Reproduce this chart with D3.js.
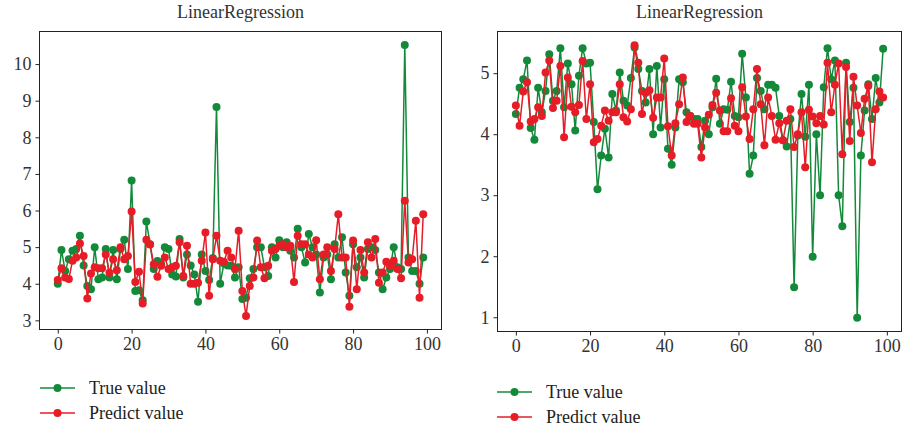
<!DOCTYPE html>
<html>
<head>
<meta charset="utf-8">
<script src="https://cdn.jsdelivr.net/npm/d3@7"></script>
<style>
  body { margin: 0; background: #fff; }
  svg { display: block; font-family: "Liberation Serif", "DejaVu Serif", serif; }
</style>
</head>
<body>
<svg id="chart" width="903" height="428"></svg>
<script>
"use strict";

var chartTitle = "LinearRegression";
var legendLabels = ["True value", "Predict value"];
var xTicks = [0, 20, 40, 60, 80, 100];
var leftYTicks = [3, 4, 5, 6, 7, 8, 9, 10];
var rightYTicks = [1, 2, 3, 4, 5];

// left panel
var leftTrue = [
  4.0, 4.92, 4.35, 4.67, 4.9, 4.95, 5.31, 4.5, 3.94, 3.85,
  5.0, 4.12, 4.17, 4.95, 4.17, 4.92, 4.12, 4.95, 5.2, 4.4,
  6.82, 3.8, 3.82, 3.55, 5.7, 5.08, 4.4, 4.62, 4.53, 5.0,
  4.95, 4.25, 4.2, 5.22, 4.17, 4.8, 4.5, 4.25, 3.51, 4.8,
  4.35, 4.1, 4.7, 8.83, 4.0, 4.55, 4.5, 4.49, 4.17, 4.45,
  3.58, 3.62, 4.15, 4.4, 5.0, 5.0, 4.45, 4.21, 5.0, 4.72,
  5.19, 5.0, 5.13, 4.9, 4.72, 5.5, 5.0, 4.58, 5.36, 5.0,
  4.8, 3.76, 4.72, 4.8, 4.12, 5.08, 4.72, 5.27, 4.31, 3.67,
  5.08, 4.45, 4.72, 4.17, 4.95, 5.0, 4.92, 4.31, 3.85, 4.17,
  4.4, 5.0, 4.45, 4.4, 10.52, 4.72, 4.35, 4.35, 4.0, 4.72
];
var leftPred = [
  4.1, 4.42, 4.17, 4.13, 4.63, 4.72, 5.1, 4.76, 3.6, 4.28,
  4.45, 4.42, 4.42, 4.8, 4.3, 4.67, 4.37, 5.0, 4.67, 4.76,
  5.97, 4.05, 4.33, 3.46, 5.2, 5.07, 4.53, 4.19, 4.49, 4.72,
  4.4, 4.45, 4.49, 5.13, 4.21, 5.04, 4.0, 4.0, 4.03, 4.63,
  5.4, 3.67, 4.67, 5.31, 4.63, 4.6, 4.9, 4.72, 4.4, 5.45,
  3.8, 3.12, 3.94, 4.17, 5.18, 4.45, 4.15, 4.49, 4.9, 4.95,
  5.04, 5.08, 5.0, 5.04, 4.05, 5.31, 5.08, 5.08, 4.8, 4.72,
  5.19, 4.12, 4.8, 5.0, 4.35, 4.95, 5.9, 4.72, 4.72, 3.37,
  5.18, 3.85, 4.92, 4.31, 5.13, 4.72, 5.22, 4.03, 4.31, 4.6,
  4.49, 4.63, 4.4, 4.15, 6.27, 4.58, 4.67, 5.72, 3.62, 5.9
];

// right panel
var rightTrue = [
  4.33, 4.76, 4.9, 5.21, 4.1, 3.91, 4.76, 4.36, 4.71, 5.31,
  4.55, 4.71, 5.41, 4.44, 5.16, 4.82, 4.06, 4.96, 5.41, 5.16,
  5.17, 4.2, 3.1, 3.65, 4.09, 3.62, 4.66, 4.39, 5.01, 4.55,
  4.47, 4.92, 5.42, 5.07, 4.71, 4.52, 5.07, 4.0, 5.12, 4.11,
  4.9, 3.76, 3.5, 4.11, 4.9, 4.85, 4.36, 4.3, 4.25, 4.25,
  3.79, 4.22, 4.0, 4.44, 4.91, 4.17, 4.41, 4.4, 4.86, 4.3,
  4.28, 5.32, 4.6, 3.35, 3.65, 4.92, 4.71, 4.41, 4.81, 4.81,
  4.76, 4.3, 3.9, 3.8, 4.25, 1.49, 3.98, 4.66, 3.96, 4.81,
  1.99, 4.0, 3.0, 4.77, 5.41, 4.9, 5.21, 3.0, 2.49, 5.17,
  4.2, 4.76, 0.99, 3.65, 4.39, 4.82, 4.25, 4.92, 4.52, 5.4
];
var rightPred = [
  4.47, 4.14, 4.7, 4.85, 4.21, 4.25, 4.44, 4.3, 5.01, 5.21,
  4.43, 4.55, 5.12, 3.95, 4.93, 4.45, 4.36, 4.48, 5.2, 4.25,
  4.82, 3.87, 3.92, 4.14, 4.39, 4.22, 4.36, 4.36, 4.82, 4.28,
  4.21, 4.41, 5.46, 5.17, 4.33, 4.68, 4.72, 4.27, 4.6, 4.6,
  5.24, 4.13, 3.65, 4.18, 4.49, 4.93, 4.2, 4.3, 4.17, 4.17,
  3.62, 4.11, 4.32, 4.48, 4.68, 4.39, 4.05, 4.05, 4.59, 4.14,
  4.05, 4.77, 4.29, 3.92, 4.41, 5.07, 4.49, 3.82, 4.6, 4.3,
  3.91, 4.18, 3.9, 4.22, 4.41, 3.79, 4.0, 4.36, 3.46, 4.4,
  4.29, 4.18, 4.3, 4.16, 5.17, 4.36, 4.81, 5.16, 3.67, 5.1,
  3.89, 4.94, 4.47, 4.02, 4.58, 4.79, 3.54, 4.41, 4.7, 4.6
];

var colors = ["#138a3a", "#e61c26"];
var svg = d3.select("#chart");

function styleAxis(a) {
  a.select(".domain").remove();
  a.selectAll("line").attr("stroke", "#222");
  a.selectAll("text")
    .attr("fill", "#333")
    .style("font-family", "'Liberation Serif', serif")
    .style("font-size", "18px");
}

function panel(opts) {
  var n = opts.series[0].length;
  var pad = (n - 1) * 0.05;
  var x = d3.scaleLinear()
    .domain([-pad, n - 1 + pad])
    .range([opts.left, opts.right]);

  // matplotlib style 5% margin around the data
  var lo = d3.min(opts.series, function(s) { return d3.min(s); });
  var hi = d3.max(opts.series, function(s) { return d3.max(s); });
  var m = (hi - lo) * 0.05;
  var y = d3.scaleLinear()
    .domain([lo - m, hi + m])
    .range([opts.bottom, opts.top]);

  var g = svg.append("g");

  g.append("text")
    .attr("x", (opts.left + opts.right) / 2)
    .attr("y", 18)
    .attr("text-anchor", "middle")
    .style("font-size", "18px")
    .style("fill", "#333")
    .text(chartTitle);

  var line = d3.line()
    .x(function(d, i) { return x(i); })
    .y(function(d) { return y(d); });

  opts.series.forEach(function(s, k) {
    g.append("path")
      .datum(s)
      .attr("fill", "none")
      .attr("stroke", colors[k])
      .attr("stroke-width", 1.5)
      .attr("d", line);
    g.append("g")
      .selectAll("circle")
      .data(s)
      .enter().append("circle")
      .attr("cx", function(d, i) { return x(i); })
      .attr("cy", function(d) { return y(d); })
      .attr("r", 4)
      .attr("fill", colors[k]);
  });

  g.append("rect")
    .attr("x", opts.left)
    .attr("y", opts.top)
    .attr("width", opts.right - opts.left)
    .attr("height", opts.bottom - opts.top)
    .attr("fill", "none")
    .attr("stroke", "#222")
    .attr("stroke-width", 1);

  g.append("g")
    .attr("transform", "translate(0," + opts.bottom + ")")
    .call(d3.axisBottom(x).tickValues(xTicks).tickFormat(d3.format("d"))
      .tickSize(4).tickPadding(4))
    .call(styleAxis);

  g.append("g")
    .attr("transform", "translate(" + opts.left + ",0)")
    .call(d3.axisLeft(y).tickValues(opts.yTicks).tickFormat(d3.format("d"))
      .tickSize(4).tickPadding(4))
    .call(styleAxis);

  // legend below the axes
  legendLabels.forEach(function(label, k) {
    var ly = opts.legendY + k * 25;
    var lg = g.append("g");
    lg.append("line")
      .attr("x1", opts.legendX)
      .attr("x2", opts.legendX + 35)
      .attr("y1", ly).attr("y2", ly)
      .attr("stroke", colors[k])
      .attr("stroke-width", 1.5);
    lg.append("circle")
      .attr("cx", opts.legendX + 17.5)
      .attr("cy", ly)
      .attr("r", 4)
      .attr("fill", colors[k]);
    lg.append("text")
      .attr("x", opts.legendX + 49)
      .attr("y", ly + 6)
      .style("font-size", "18px")
      .style("fill", "#222")
      .text(label);
  });
}

panel({
  series: [leftTrue, leftPred],
  left: 39.5, right: 441.5, top: 31.5, bottom: 329.5,
  yTicks: leftYTicks,
  legendX: 40, legendY: 388
});

panel({
  series: [rightTrue, rightPred],
  left: 497.5, right: 901.5, top: 31.5, bottom: 331.5,
  yTicks: rightYTicks,
  legendX: 497, legendY: 392
});
</script>
</body>
</html>
